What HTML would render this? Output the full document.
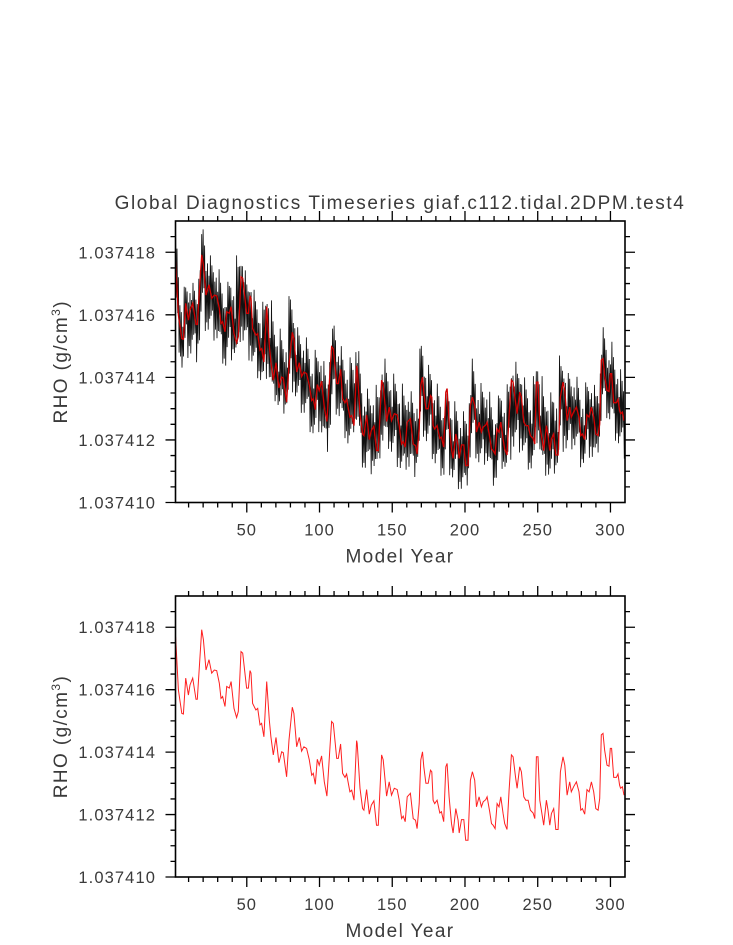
<!DOCTYPE html>
<html><head><meta charset="utf-8"><style>
html,body{margin:0;padding:0;background:#fff;}
svg{display:block;}
text{font-family:"Liberation Sans",sans-serif;fill:#3a3a3a;}
</style></head><body>
<svg id="chart" width="733" height="945" viewBox="0 0 733 945" xmlns="http://www.w3.org/2000/svg">
<text x="400" y="209" text-anchor="middle" font-size="19" letter-spacing="1.6">Global Diagnostics Timeseries giaf.c112.tidal.2DPM.test4</text>
<g id="p1"></g>
<g id="p2"></g>
</svg>
<script>
// Annual-mean RHO (units of 1e-6 above 1.037410)
const redYears=[1.1,3,5.3,6.4,8,9.9,11,12.8,15.1,16,19,20.2,22,24,25.9,27.7,29.3,31.1,32.3,33.4,35,36.2,38,39.2,41.2,43,44.2,46,47.2,49.9,51.1,52.2,52.9,54,56.3,57.5,59.1,60.2,61.8,63.7,65.5,66.6,68.2,70.1,72.1,74,75.1,77.4,79,81.3,82.4,84.3,86.1,87.7,89.3,91.1,93,94.6,95.7,97.1,98.5,99.8,101.4,103.3,105.1,108.3,109.5,111.8,112.9,114.5,115.9,117.5,118.6,120.9,122.1,123.7,125.5,125.9,127.8,129.6,130.5,132.4,134.2,135.6,137.4,139.2,140.4,142.7,143.8,146.1,147.9,149.5,151.4,153.4,154.8,156.4,157.5,158.9,160.3,162.5,164.4,166,167.1,168.5,169.6,170.8,171.7,173.1,174.7,176.3,177.2,178.1,179.2,180.8,182.7,183.8,185.4,186.8,187.7,189.1,190.7,191.8,193.7,195.3,196,197.6,199.2,200.5,202.1,203.7,205.1,206.7,207.9,209.7,211.3,212.5,214.3,215.2,217,218.2,219.3,220.7,222.1,223.4,224.6,226.2,227.3,228.9,230.3,231.9,233.1,234.7,235.8,237.6,238.8,240.4,241.8,243.4,245,246.8,248,249.1,250.2,251.4,253.2,254.1,256,257.1,258.3,259.4,261,262.4,264,265.6,267.4,268.6,270.2,272,273.1,274.7,276.6,278.4,279.6,280.7,282.3,283.9,285.3,286.9,288.5,289.9,291.5,292.6,293.7,294.9,296,297.6,299,299.9,300.8,302.2,304.1,305.2,306.3,307,308.2,309.3];
const redVals=[7.70,5.99,5.24,5.22,6.37,5.83,6.15,6.37,5.69,5.69,7.92,7.60,6.63,6.96,6.53,6.63,6.61,6.21,5.72,5.78,5.46,6.10,6.05,6.26,5.40,5.11,5.30,7.22,7.17,6.05,6.05,6.61,6.53,5.56,5.35,5.40,4.87,4.92,4.49,6.26,5.03,4.49,3.91,4.47,3.66,4.01,3.98,3.21,4.39,5.44,5.24,4.17,4.47,4.03,4.17,4.12,3.75,3.26,3.32,2.97,3.77,3.58,3.88,3.05,2.59,4.98,4.92,3.80,3.80,4.26,3.32,3.19,3.30,2.73,2.78,2.46,4.37,4.28,2.84,2.19,2.14,2.80,2.01,2.30,2.44,1.66,1.66,3.91,3.75,2.59,3.05,2.62,2.84,2.80,2.46,1.87,1.95,1.77,2.57,2.68,1.87,1.82,1.55,2.35,3.75,4.01,3.53,3.00,3.00,3.42,3.37,2.46,2.35,2.46,2.05,2.09,1.77,3.53,3.64,2.57,1.71,1.41,2.19,1.82,1.41,1.84,1.84,1.18,1.18,3.10,3.37,3.10,2.25,2.57,2.25,2.41,2.48,2.57,2.09,1.71,1.66,1.55,2.35,2.25,2.57,2.03,1.71,1.52,2.78,3.91,3.85,3.21,2.84,3.53,3.37,2.57,2.46,2.46,2.14,2.05,1.87,3.85,3.85,2.46,1.93,1.66,2.46,2.14,1.66,2.03,2.19,1.52,1.52,3.37,3.85,3.58,2.62,3.05,2.73,2.89,3.05,2.73,2.14,2.19,2.01,2.80,2.73,3.05,2.73,2.19,2.14,2.51,4.55,4.60,4.07,3.58,3.55,4.12,4.12,3.19,3.19,3.30,2.94,2.84,2.89,2.62];
// Monthly-data envelope (upper / lower), every 5 years
const blackYears=[1,5,10,15,20,25,30,35,40,45,50,55,60,65,70,75,80,85,90,95,100,105,110,115,120,125,130,135,140,145,150,155,160,165,170,175,180,185,190,195,200,205,210,215,220,225,230,235,240,245,250,255,260,265,270,275,280,285,290,295,300,305,310];
const blackHi=[9.0,6.7,7.2,6.9,9.0,7.9,7.6,6.9,7.3,8.3,7.2,6.8,6.3,6.9,5.8,5.4,6.9,5.6,5.4,4.8,5.0,4.2,5.9,5.0,4.4,5.6,3.7,3.6,3.8,4.6,4.2,3.8,3.8,3.4,5.3,4.4,3.9,3.4,3.6,3.0,2.9,4.6,3.8,3.9,3.0,3.7,3.8,4.5,4.1,3.6,4.7,3.6,3.5,4.7,4.1,4.3,3.6,4.0,3.7,5.6,5.3,4.5,3.9];
const blackLo=[5.8,4.1,4.6,4.3,5.5,5.2,5.0,4.1,4.5,5.1,4.6,4.1,3.7,3.9,3.1,2.7,3.6,3.0,2.6,2.0,2.2,1.4,2.9,2.4,1.6,2.5,0.9,0.8,1.1,1.9,1.4,0.9,1.0,0.6,2.2,1.6,1.0,0.7,0.8,0.4,0.0,1.7,1.0,1.2,0.4,1.0,1.1,1.6,1.4,0.8,1.9,0.8,0.6,1.5,1.5,1.7,1.0,1.4,1.0,2.9,2.4,1.7,1.3];
const yTickVals=[0,2,4,6,8];
const yTickLabels=["1.037410","1.037412","1.037414","1.037416","1.037418"];
const xTickVals=[50,100,150,200,250,300];
const xTickLabels=["50","100","150","200","250","300"];

const NS="http://www.w3.org/2000/svg";
const X0=175.5,X1=625,XMIN=1,XMAX=310,YMIN=0,YMAX=9;
function mk(tag,attrs,parent){const e=document.createElementNS(NS,tag);for(const k in attrs)e.setAttribute(k,attrs[k]);parent.appendChild(e);return e;}
function xs(v){return X0+(v-XMIN)/(XMAX-XMIN)*(X1-X0);}
function interp(xa,ya,x){if(x<=xa[0])return ya[0];for(let i=1;i<xa.length;i++){if(x<=xa[i]){const t=(x-xa[i-1])/(xa[i]-xa[i-1]);return ya[i-1]+t*(ya[i]-ya[i-1]);}}return ya[ya.length-1];}

function panel(g,top,bot,withBlack){
  const ys=v=>bot-(v-YMIN)/(YMAX-YMIN)*(bot-top);
  const clipId='c'+top;
  const cp=mk('clipPath',{id:clipId},g);mk('rect',{x:X0,y:top,width:X1-X0,height:bot-top},cp);
  const dg=mk('g',{'clip-path':'url(#'+clipId+')'},g);
  if(withBlack){
    const mod=[1,0.45,0.8,0.3,0.65,0.95,0.4,0.7,0.55,0.85,0.25,0.6];
    let z='';let k=0;
    for(let yr=XMIN;yr<=XMAX;yr+=0.5,k++){
      const hi=interp(blackYears,blackHi,yr),lo=interp(blackYears,blackLo,yr),mid=interp(redYears,redVals,yr);
      const m=mod[k%12];
      const v=(k%2===0)?mid+(hi-mid)*m:mid-(mid-lo)*m;
      z+=(k?'L':'M')+xs(yr).toFixed(1)+','+ys(v).toFixed(1);
    }
    const bl=mk('path',{d:z,fill:'none',stroke:'#111','stroke-width':0.85},dg);
    
    
  }
  let r='';
  for(let i=0;i<redYears.length;i++)r+=(i?'L':'M')+xs(redYears[i]).toFixed(1)+','+ys(redVals[i]).toFixed(1);
  const rl=mk('path',{d:r,fill:'none',stroke:withBlack?'#d00000':'#ff2020','stroke-width':withBlack?1.3:1},dg);
  
  
  const box=mk('rect',{x:X0,y:top,width:X1-X0,height:bot-top,fill:'none',stroke:'#000','stroke-width':1.6},g);
  
  
  let t='';
  for(let v=10;v<XMAX;v+=10){const x=xs(v),L=(v%50===0)?10:5;t+='M'+x+','+bot+'v'+L+'M'+x+','+top+'v'+(-L);}
  for(let v=0.5;v<YMAX;v+=0.5){const y=ys(v),L=(Math.abs(v%2)<1e-6)?10:5;t+='M'+X0+','+y+'h'+(-L)+'M'+X1+','+y+'h'+L;}
  t+='M'+X0+','+bot+'h-10';
  const tk=mk('path',{d:t,stroke:'#000','stroke-width':1.3,fill:'none'},g);
  
  
  yTickVals.forEach((v,i)=>{const e=mk('text',{x:156,y:ys(v)+6,'text-anchor':'end','font-size':16.5,'letter-spacing':1.1},g);e.textContent=yTickLabels[i];
    
    });
  xTickVals.forEach((v,i)=>{const e=mk('text',{x:xs(v),y:bot+33,'text-anchor':'middle','font-size':16.5,'letter-spacing':1},g);e.textContent=xTickLabels[i];
    
    });
  const xt=mk('text',{x:400,y:bot+60,'text-anchor':'middle','font-size':19,'letter-spacing':1.4},g);xt.textContent='Model Year';
  
  
  const cy=(top+bot)/2;
  const yt=mk('text',{x:0,y:0,'text-anchor':'middle','font-size':19,'letter-spacing':1.4,transform:'translate(67,'+cy+') rotate(-90)'},g);
  yt.innerHTML='RHO (g/cm<tspan dy="-7" font-size="12">3</tspan><tspan dy="7">)</tspan>';
  
  
}
panel(document.getElementById('p1'),221,502.5,true);
panel(document.getElementById('p2'),596,877,false);
</script>
</body></html>
